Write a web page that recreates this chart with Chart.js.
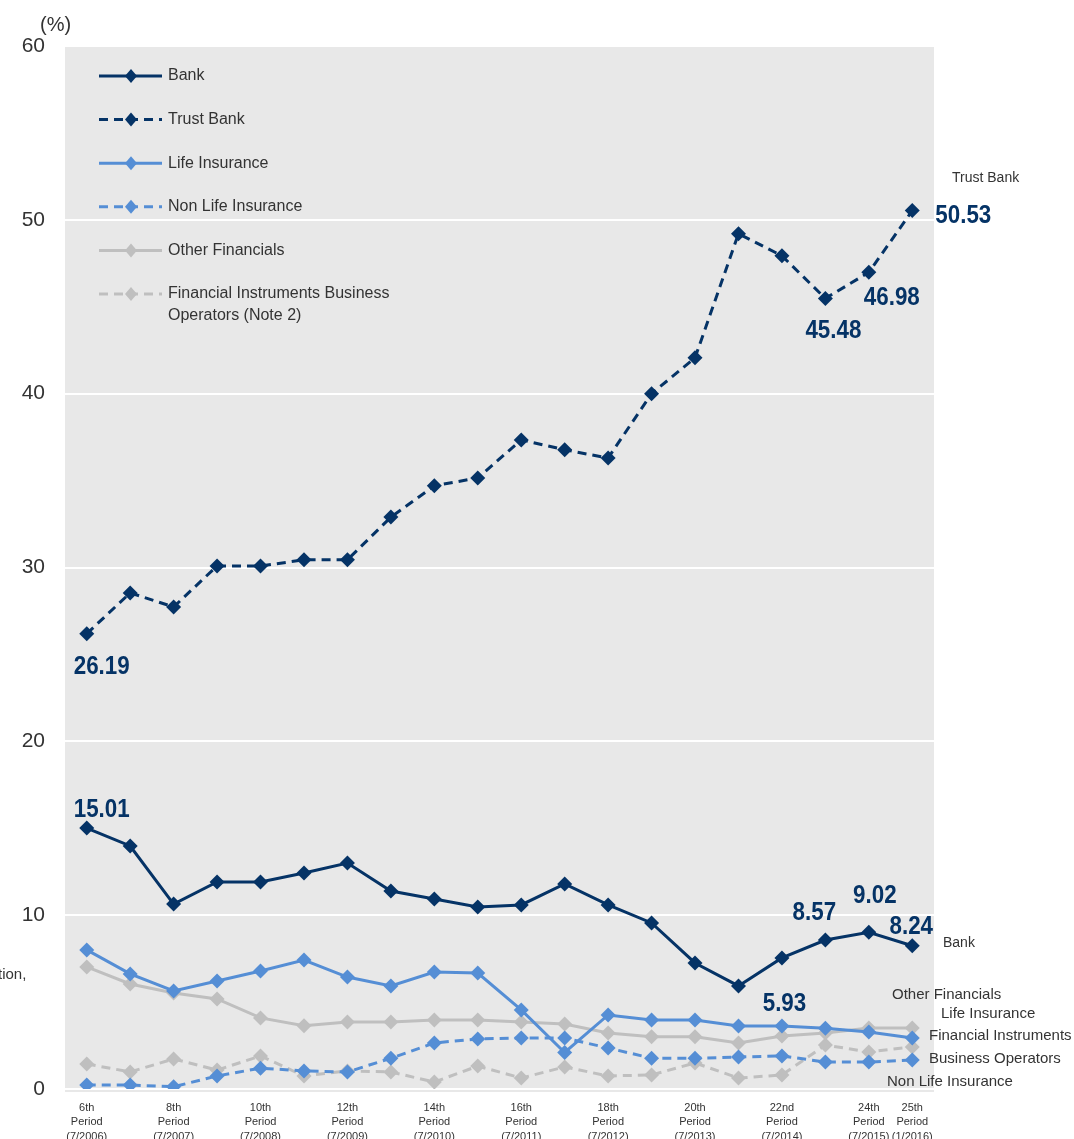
<!DOCTYPE html>
<html lang="en">
<head>
<meta charset="utf-8">
<title>Share by investor type</title>
<script src="https://cdn.jsdelivr.net/npm/chart.js@4.4.0/dist/chart.umd.min.js"></script>
<style>
  html, body { margin: 0; padding: 0; background: #fff; }
  #wrap { width: 1074px; height: 1139px; position: relative; }
</style>
</head>
<body>
<div id="wrap"><canvas id="myChart" width="1074" height="1139"></canvas></div>
<script>
var periods = [
  ['6th', 'Period', '(7/2006)'], '', ['8th', 'Period', '(7/2007)'], '',
  ['10th', 'Period', '(7/2008)'], '', ['12th', 'Period', '(7/2009)'], '',
  ['14th', 'Period', '(7/2010)'], '', ['16th', 'Period', '(7/2011)'], '',
  ['18th', 'Period', '(7/2012)'], '', ['20th', 'Period', '(7/2013)'], '',
  ['22nd', 'Period', '(7/2014)'], '', ['24th', 'Period', '(7/2015)'],
  ['25th', 'Period', '(1/2016)']
];
var yTicks = [0, 10, 20, 30, 40, 50, 60];

var bank = [15.01, 13.98, 10.64, 11.91, 11.91, 12.43, 13.0, 11.39, 10.93, 10.47,
            10.59, 11.8, 10.59, 9.55, 7.25, 5.93, 7.54, 8.57, 9.02, 8.24];
var trustBank = [26.19, 28.54, 27.73, 30.09, 30.09, 30.44, 30.44, 32.9, 34.7, 35.15,
                 37.34, 36.77, 36.3, 40.0, 42.06, 49.2, 47.93, 45.48, 46.98, 50.53];
var lifeIns = [8.0, 6.62, 5.64, 6.21, 6.79, 7.42, 6.44, 5.93, 6.73, 6.67,
               4.55, 2.1, 4.26, 3.97, 3.97, 3.62, 3.62, 3.5, 3.28, 2.93];
var nonLifeIns = [0.23, 0.23, 0.13, 0.75, 1.2, 1.04, 0.98, 1.77, 2.65, 2.88,
                  2.93, 2.93, 2.36, 1.77, 1.77, 1.84, 1.9, 1.55, 1.55, 1.67];
var otherFin = [7.02, 6.04, 5.52, 5.18, 4.09, 3.64, 3.85, 3.85, 3.97, 3.97,
                3.85, 3.74, 3.22, 3.0, 3.0, 2.65, 3.05, 3.22, 3.51, 3.51];
var finInstr = [1.44, 0.98, 1.73, 1.09, 1.9, 0.75, 1.04, 0.98, 0.4, 1.32,
                0.63, 1.27, 0.75, 0.81, 1.5, 0.63, 0.81, 2.53, 2.13, 2.42];

var NAVY = '#053366';
var BLUE = '#558ed5';
var GREY = '#bfbfbf';
var NARROW = '"Liberation Sans Narrow", "Arial Narrow", "Liberation Sans", sans-serif';
var SANS = '"Liberation Sans", Arial, sans-serif';

function series(label, data, color, dashed) {
  return {
    label: label,
    data: data,
    borderColor: color,
    backgroundColor: color,
    borderWidth: 3,
    borderDash: dashed ? [9, 6] : [],
    pointStyle: 'rectRot',
    pointRadius: 7.5,
    pointHoverRadius: 7.5,
    pointBorderWidth: 0,
    tension: 0,
    fill: false
  };
}

// callouts: dataset index, point index, pixel offset of text centre
var callouts = [
  [1, 0, 15, 32], [0, 0, 15, -19], [0, 15, 46, 17], [0, 17, -11, -28],
  [0, 18, 6, -37], [0, 19, -1, -20], [1, 17, 8, 31], [1, 18, 23, 24], [1, 19, 51, 4]
];
var sideNotes = [
  ['Trust Bank', 952, 178], ['Bank', 943, 943],
  ['Other Financials', 892, 995], ['Life Insurance', 941, 1014],
  ['Financial Instruments', 929, 1036], ['Business Operators', 929, 1059],
  ['Non Life Insurance', 887, 1082], ['tion,', -2, 975]
];

var decor = {
  id: 'decor',
  beforeDraw: function (chart) {
    var a = chart.chartArea, c = chart.ctx;
    c.save();
    c.fillStyle = '#e8e8e8';
    c.fillRect(a.left, a.top - 1, a.right - a.left, a.bottom - a.top + 4);
    c.restore();
  },
  afterDatasetsDraw: function (chart) {
    var c = chart.ctx;
    c.save();
    // value callouts (tall, narrow bold figures)
    c.fillStyle = NAVY;
    c.font = 'bold 26px ' + NARROW;
    c.textAlign = 'center';
    c.textBaseline = 'middle';
    callouts.forEach(function (k) {
      var p = chart.getDatasetMeta(k[0]).data[k[1]];
      var v = chart.data.datasets[k[0]].data[k[1]];
      c.save();
      c.translate(p.x + k[2], p.y + k[3]);
      c.scale(0.86, 1);
      c.fillText(v.toFixed(2), 0, 1);
      c.restore();
    });
    // legend
    chart.data.datasets.forEach(function (ds, i) {
      var y = 76 + i * 43.6;
      c.strokeStyle = ds.borderColor;
      c.lineWidth = 3;
      c.setLineDash(ds.borderDash);
      c.beginPath(); c.moveTo(99, y); c.lineTo(162, y); c.stroke();
      c.setLineDash([]);
      c.fillStyle = ds.borderColor;
      c.beginPath();
      c.moveTo(131, y - 7); c.lineTo(137, y); c.lineTo(131, y + 7); c.lineTo(125, y);
      c.closePath(); c.fill();
      c.fillStyle = '#333';
      c.font = '16px ' + NARROW;
      c.textAlign = 'left';
      var lines = ds.label.split('\n');
      lines.forEach(function (t, j) { c.fillText(t, 168, y + j * 22); });
    });
    // side notes
    c.fillStyle = '#333';
    c.textBaseline = 'middle';
    c.textAlign = 'left';
    sideNotes.forEach(function (n) {
      c.font = (n[0] === 'Trust Bank' || n[0] === 'Bank' ? '14px ' : '15px ') + SANS;
      c.fillText(n[0], n[1], n[2]);
    });
    // unit
    c.font = '20px ' + NARROW;
    c.fillText('(%)', 40, 25);
    c.restore();
  }
};

var ctx = document.getElementById('myChart').getContext('2d');
var chart = new Chart(ctx, {
  type: 'line',
  data: {
    labels: periods,
    datasets: [
      series('Bank', bank, NAVY, false),
      series('Trust Bank', trustBank, NAVY, true),
      series('Life Insurance', lifeIns, BLUE, false),
      series('Non Life Insurance', nonLifeIns, BLUE, true),
      series('Other Financials', otherFin, GREY, false),
      series('Financial Instruments Business\nOperators (Note 2)', finInstr, GREY, true)
    ]
  },
  options: {
    responsive: false,
    animation: false,
    layout: { padding: { top: 46, right: 140, left: 0, bottom: 0 } },
    plugins: { legend: { display: false }, tooltip: { enabled: false } },
    scales: {
      x: {
        offset: true,
        grid: { display: false },
        border: { display: false },
        ticks: {
          autoSkip: false, maxRotation: 0, minRotation: 0, padding: 4,
          color: '#333', font: { family: NARROW, size: 11, lineHeight: 1.3 }
        },
        afterFit: function (s) { s.height = 50; }
      },
      y: {
        min: 0, max: 60,
        afterBuildTicks: function (s) { s.ticks = yTicks.map(function (v) { return { value: v }; }); },
        grid: { color: '#ffffff', lineWidth: 2, drawTicks: false },
        border: { display: false },
        ticks: { padding: 20, color: '#333', font: { family: NARROW, size: 21 } },
        afterFit: function (s) { s.width = 65; }
      }
    }
  },
  plugins: [decor]
});
</script>
</body>
</html>
